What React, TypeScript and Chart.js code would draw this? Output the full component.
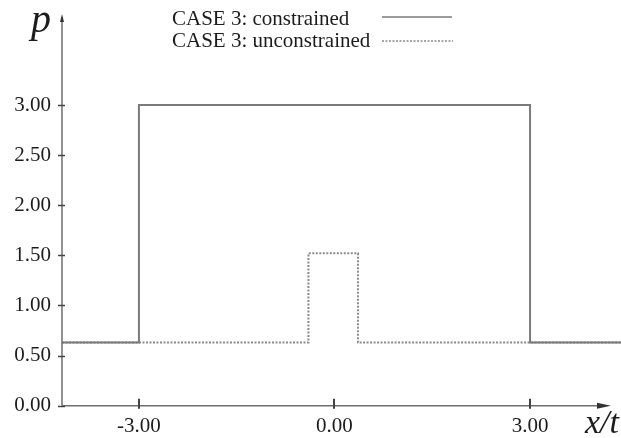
import React, { useEffect, useRef } from "react";
import { Chart, registerables } from "chart.js";

Chart.register(...registerables);

// Data
const xMin = -4.18;
const xMax = 4.395;
const yMin = 0;
const yMax = 3.898;
const xTickValues = [-3, 0, 3];
const yTickValues = [0, 0.5, 1.0, 1.5, 2.0, 2.5, 3.0];

const constrainedX = [-4.18, -3.0, -3.0, 3.0, 3.0, 4.395];
const constrainedY = [0.63, 0.63, 3.0, 3.0, 0.63, 0.63];
const unconstrainedX = [-4.18, -0.4, -0.4, 0.36, 0.36, 4.395];
const unconstrainedY = [0.63, 0.63, 1.52, 1.52, 0.63, 0.63];

const seriesLabels = ["CASE 3: constrained", "CASE 3: unconstrained"];
const yAxisTitle = "p";
const xAxisTitle = "x/t";

const FONT = "'Liberation Serif', 'Times New Roman', serif";
const AXIS_COLOR = "#6f6f6f";
const TEXT_COLOR = "#1c1c1c";
const SOLID_COLOR = "#7a7a7a";
const DOT_COLOR = "#8a8a8a";

const decorPlugin = {
  id: "decor",
  afterDraw(chart: any) {
    const ctx = chart.ctx;
    const area = chart.chartArea;
    const xs = chart.scales.x;
    const ys = chart.scales.y;
    const ax = area.left;
    const ay = ys.getPixelForValue(0);
    ctx.save();
    // axes
    ctx.strokeStyle = AXIS_COLOR;
    ctx.fillStyle = AXIS_COLOR;
    ctx.lineWidth = 1.5;
    ctx.beginPath();
    ctx.moveTo(ax, ay);
    ctx.lineTo(ax, area.top + 4);
    ctx.moveTo(ax, ay);
    ctx.lineTo(600, ay);
    ctx.stroke();
    // x arrow
    ctx.fillStyle = "#333";
    ctx.beginPath();
    ctx.moveTo(611, ay);
    ctx.lineTo(597, ay - 3);
    ctx.lineTo(597, ay + 3);
    ctx.closePath();
    ctx.fill();
    // y arrow
    ctx.beginPath();
    ctx.moveTo(ax, area.top - 1);
    ctx.lineTo(ax - 2, area.top + 7);
    ctx.lineTo(ax + 2, area.top + 7);
    ctx.closePath();
    ctx.fill();
    // tick marks
    ctx.strokeStyle = "#444";
    ctx.lineWidth = 1.5;
    ctx.beginPath();
    for (const v of yTickValues) {
      const py = Math.round(ys.getPixelForValue(v)) + 0.5;
      ctx.moveTo(ax - 4, py);
      ctx.lineTo(ax + 3, py);
    }
    ctx.stroke();
    ctx.lineWidth = 2;
    ctx.beginPath();
    for (const v of xTickValues) {
      const px = Math.round(xs.getPixelForValue(v));
      ctx.moveTo(px, ay - 7);
      ctx.lineTo(px, ay + 3);
    }
    ctx.stroke();
    // legend
    ctx.fillStyle = TEXT_COLOR;
    ctx.font = `21px ${FONT}`;
    ctx.textAlign = "left";
    ctx.textBaseline = "alphabetic";
    ctx.fillText(seriesLabels[0], 172, 25);
    ctx.fillText(seriesLabels[1], 172, 47);
    ctx.strokeStyle = SOLID_COLOR;
    ctx.lineWidth = 1.5;
    ctx.beginPath();
    ctx.moveTo(382, 17);
    ctx.lineTo(452, 17);
    ctx.stroke();
    ctx.strokeStyle = DOT_COLOR;
    ctx.setLineDash([2, 1.5]);
    ctx.beginPath();
    ctx.moveTo(382, 41);
    ctx.lineTo(453, 41);
    ctx.stroke();
    ctx.setLineDash([]);
    // axis titles
    ctx.fillStyle = TEXT_COLOR;
    ctx.font = `italic 40px ${FONT}`;
    ctx.fillText(yAxisTitle, 31, 32);
    ctx.font = `italic 34px ${FONT}`;
    ctx.fillText(xAxisTitle, 585, 433);
    ctx.restore();
  },
};

export default function App() {
  const ref = useRef<HTMLCanvasElement>(null);
  useEffect(() => {
    document.body.style.margin = "0";
    const canvas = ref.current;
    if (!canvas) return;
    const chart = new Chart(canvas, {
      type: "line",
      data: {
        datasets: [
          {
            label: seriesLabels[0],
            data: constrainedX.map((x, i) => ({ x, y: constrainedY[i] })),
            borderColor: SOLID_COLOR,
            borderWidth: 2,
            pointRadius: 0,
            tension: 0,
            fill: false,
          },
          {
            label: seriesLabels[1],
            data: unconstrainedX.map((x, i) => ({ x, y: unconstrainedY[i] })),
            borderColor: DOT_COLOR,
            borderWidth: 2,
            borderDash: [2, 1.5],
            pointRadius: 0,
            tension: 0,
            fill: false,
          },
        ],
      },
      options: {
        responsive: false,
        animation: false,
        layout: { padding: { top: 15, right: 0, left: 0, bottom: 0 } },
        plugins: {
          legend: { display: false },
          tooltip: { enabled: false },
        },
        scales: {
          x: {
            type: "linear",
            min: xMin,
            max: xMax,
            grid: { display: false, drawTicks: false },
            border: { display: false },
            afterBuildTicks: (s: any) => {
              s.ticks = xTickValues.map((v) => ({ value: v }));
            },
            afterFit: (s: any) => {
              s.height = 32.3;
              s.paddingLeft = 0;
              s.paddingRight = 0;
            },
            ticks: {
              font: { family: FONT, size: 21 },
              color: TEXT_COLOR,
              padding: 8,
              maxRotation: 0,
              callback: (v: any) => Number(v).toFixed(2),
            },
          },
          y: {
            type: "linear",
            min: yMin,
            max: yMax,
            grid: { display: false, drawTicks: false },
            border: { display: false },
            afterBuildTicks: (s: any) => {
              s.ticks = yTickValues.map((v) => ({ value: v }));
            },
            afterFit: (s: any) => {
              s.width = 62;
              s.paddingTop = 0;
              s.paddingBottom = 0;
            },
            ticks: {
              font: { family: FONT, size: 21 },
              color: TEXT_COLOR,
              padding: 11,
              callback: (v: any) => Number(v).toFixed(2),
            },
          },
        },
      },
      plugins: [decorPlugin],
    });
    return () => chart.destroy();
  }, []);
  return (
    <div style={{ width: 621, height: 438, background: "#fff" }}>
      <canvas ref={ref} width={621} height={438} style={{ display: "block" }} />
    </div>
  );
}
